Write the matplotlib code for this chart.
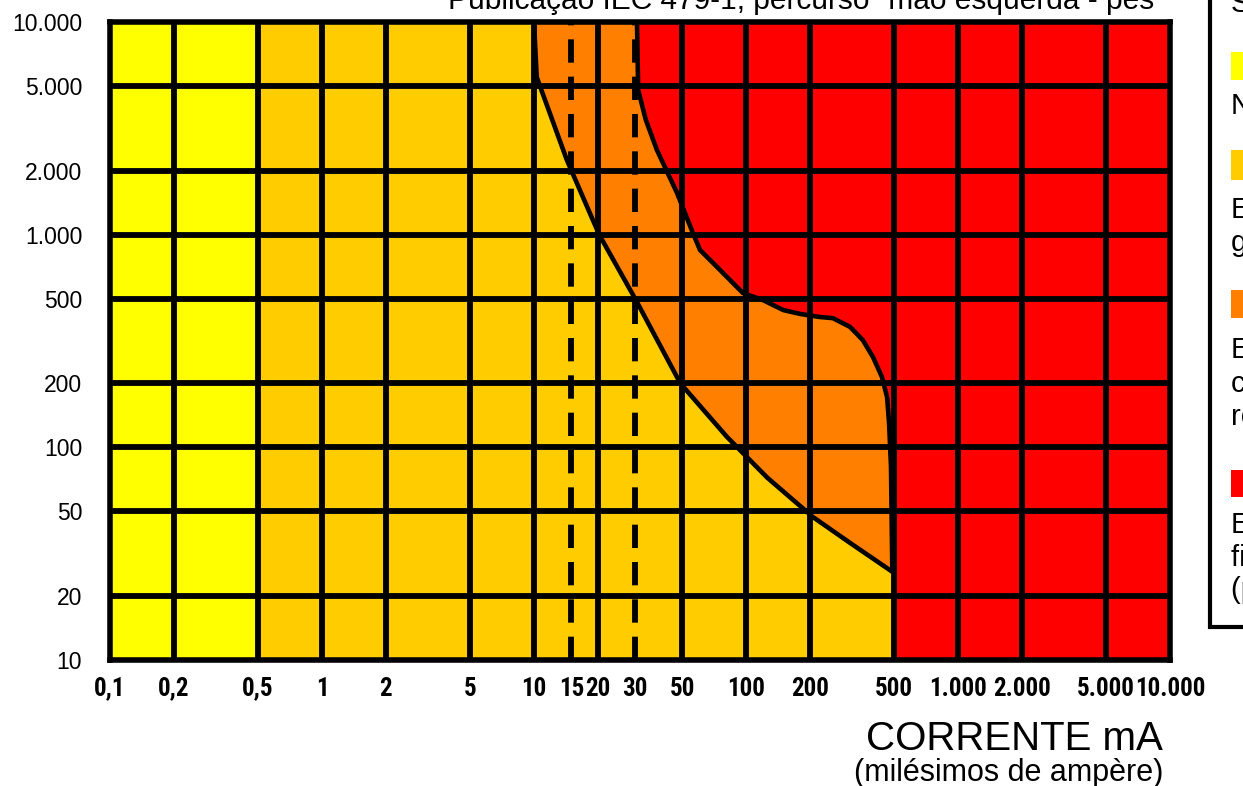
import matplotlib
matplotlib.use("Agg")
import matplotlib.pyplot as plt
from matplotlib import font_manager
from matplotlib.patches import Rectangle

# Eixos: corrente (mA) x tempo (ms)
x_ticks = [0.1, 0.2, 0.5, 1, 2, 5, 10, 15, 20, 30, 50, 100, 200, 500, 1000, 2000, 5000, 10000]
x_labels = ["0,1", "0,2", "0,5", "1", "2", "5", "10", "15", "20", "30", "50", "100", "200",
            "500", "1.000", "2.000", "5.000", "10.000"]
y_ticks = [10, 20, 50, 100, 200, 500, 1000, 2000, 5000, 10000]
y_labels = ["10", "20", "50", "100", "200", "500", "1.000", "2.000", "5.000", "10.000"]
dashed_x = [15, 30]

# curva c1 (limite zona 2 / zona 3)
c1_ma = [10.0, 10.3, 14.3, 20.3, 30.0, 49.0, 81.3, 126, 207, 310, 490]
c1_ms = [10000, 5500, 2240, 1000, 500, 200, 112, 72, 47, 35.5, 26]

# curva c2 (limite zona 3 / zona 4)
c2_ma = [30.6, 31.0, 33.7, 38.0, 47.3, 56.2, 60.7, 73, 96.8, 120, 150, 180, 223, 257,
         310, 356, 397, 438, 463, 473, 483, 490]
c2_ms = [10000, 4790, 3460, 2500, 1570, 1016, 847, 705, 531, 493, 442, 424, 410, 405,
         368, 319, 266, 214, 172, 130, 81, 26]

# faixas de fundo
zone1_ma = (0.1, 0.5)
zone2_ma = (0.5, 500)
zone4_ma = (500, 10000)

YELLOW = "#FFFF00"
GOLD = "#FFCC00"
ORANGE = "#FF8000"
RED = "#FF0000"

names = {f.name for f in font_manager.fontManager.ttflist}
narrow = None
for cand in ["Liberation Sans Narrow", "Arial Narrow", "Roboto Condensed", "Open Sans Condensed"]:
    if cand in names:
        narrow = cand
        break
plt.rcParams["font.family"] = ["Liberation Sans", "DejaVu Sans"]

W, H = 1243, 786
fig = plt.figure(figsize=(W / 100, H / 100), dpi=100)
ax = fig.add_axes([110 / W, 1 - 660 / H, 1060 / W, 638 / H])
ax.set_xscale("log")
ax.set_yscale("log")
ax.set_xlim(0.1, 10000)
ax.set_ylim(10, 10000)

ax.axvspan(*zone1_ma, color=YELLOW, lw=0, zorder=0)
ax.axvspan(*zone2_ma, color=GOLD, lw=0, zorder=0)
ax.axvspan(*zone4_ma, color=RED, lw=0, zorder=0)

# zona 3 entre as curvas
ax.fill(c1_ma + c2_ma[::-1], c1_ms + c2_ms[::-1], color=ORANGE, lw=0, zorder=1)
# zona 4 a direita de c2
ax.fill(c2_ma + [600, 600], c2_ms + [c2_ms[-1], 10000], color=RED, lw=0, zorder=1)

lw_grid = 4.2
for xv in x_ticks[1:-1]:
    if xv in dashed_x:
        ax.axvline(xv, color="black", lw=lw_grid, ls=(0, (4, 2.4)), zorder=2)
    else:
        ax.axvline(xv, color="black", lw=lw_grid, zorder=2)
for yv in y_ticks[1:-1]:
    ax.axhline(yv, color="black", lw=lw_grid, zorder=2)

ax.plot(c1_ma, c1_ms, color="black", lw=3.3, zorder=3, solid_capstyle="round", solid_joinstyle="round")
ax.plot(c2_ma, c2_ms, color="black", lw=3.3, zorder=3, solid_capstyle="round", solid_joinstyle="round")

for s in ax.spines.values():
    s.set_linewidth(4)
    s.set_zorder(4)

ax.set_xticks(x_ticks, labels=x_labels)
ax.set_yticks(y_ticks, labels=y_labels)
ax.minorticks_off()
ax.tick_params(axis="both", length=0)
ax.tick_params(axis="x", pad=12)
ax.tick_params(axis="y", pad=20, labelsize=16.5)
for lab in ax.get_xticklabels():
    if narrow:
        lab.set_fontfamily(narrow)
        lab.set_fontsize(18)
    else:
        lab.set_fontsize(14)
    lab.set_fontweight("bold")

fig.text(1163 / W, 1 - 750 / H, "CORRENTE mA", ha="right", va="baseline", fontsize=29)
fig.text(1163 / W, 1 - 781 / H, "(milésimos de ampère)", ha="right", va="baseline", fontsize=22)

# título cortado no topo
fig.text(806 / W, 1 - 9 / H, 'Publicação IEC 479-1, percurso "mão esquerda - pés"',
         ha="center", va="baseline", fontsize=21.5)

# painel da legenda (cortado na borda direita)
fig.add_artist(Rectangle((1210 / W, 1 - 627 / H), 0.2, 1.0, transform=fig.transFigure,
                         facecolor="white", edgecolor="black", lw=3))
squares = [(52, 80, YELLOW), (150, 180, GOLD), (290, 318, ORANGE), (470, 497, RED)]
for top, bot, col in squares:
    fig.add_artist(Rectangle((1231 / W, 1 - bot / H), 0.1, (bot - top) / H,
                             transform=fig.transFigure, facecolor=col, lw=0))
legend_lines = [
    ("Significado das zonas", 12),
    ("Nenhuma reação perceptível", 114),
    ("Efeitos fisiológicos", 218),
    ("geralmente não danosos", 251),
    ("Efeitos fisiológicos", 358),
    ("contrações musculares", 392),
    ("reversíveis", 425),
    ("Efeitos fisiopatológicos", 533),
    ("fibrilação ventricular", 566),
    ("(parada cardíaca)", 598),
]
for txt, base in legend_lines:
    fig.text(1231 / W, 1 - base / H, txt, ha="left", va="baseline", fontsize=21)

fig.savefig("out.png", dpi=100)
